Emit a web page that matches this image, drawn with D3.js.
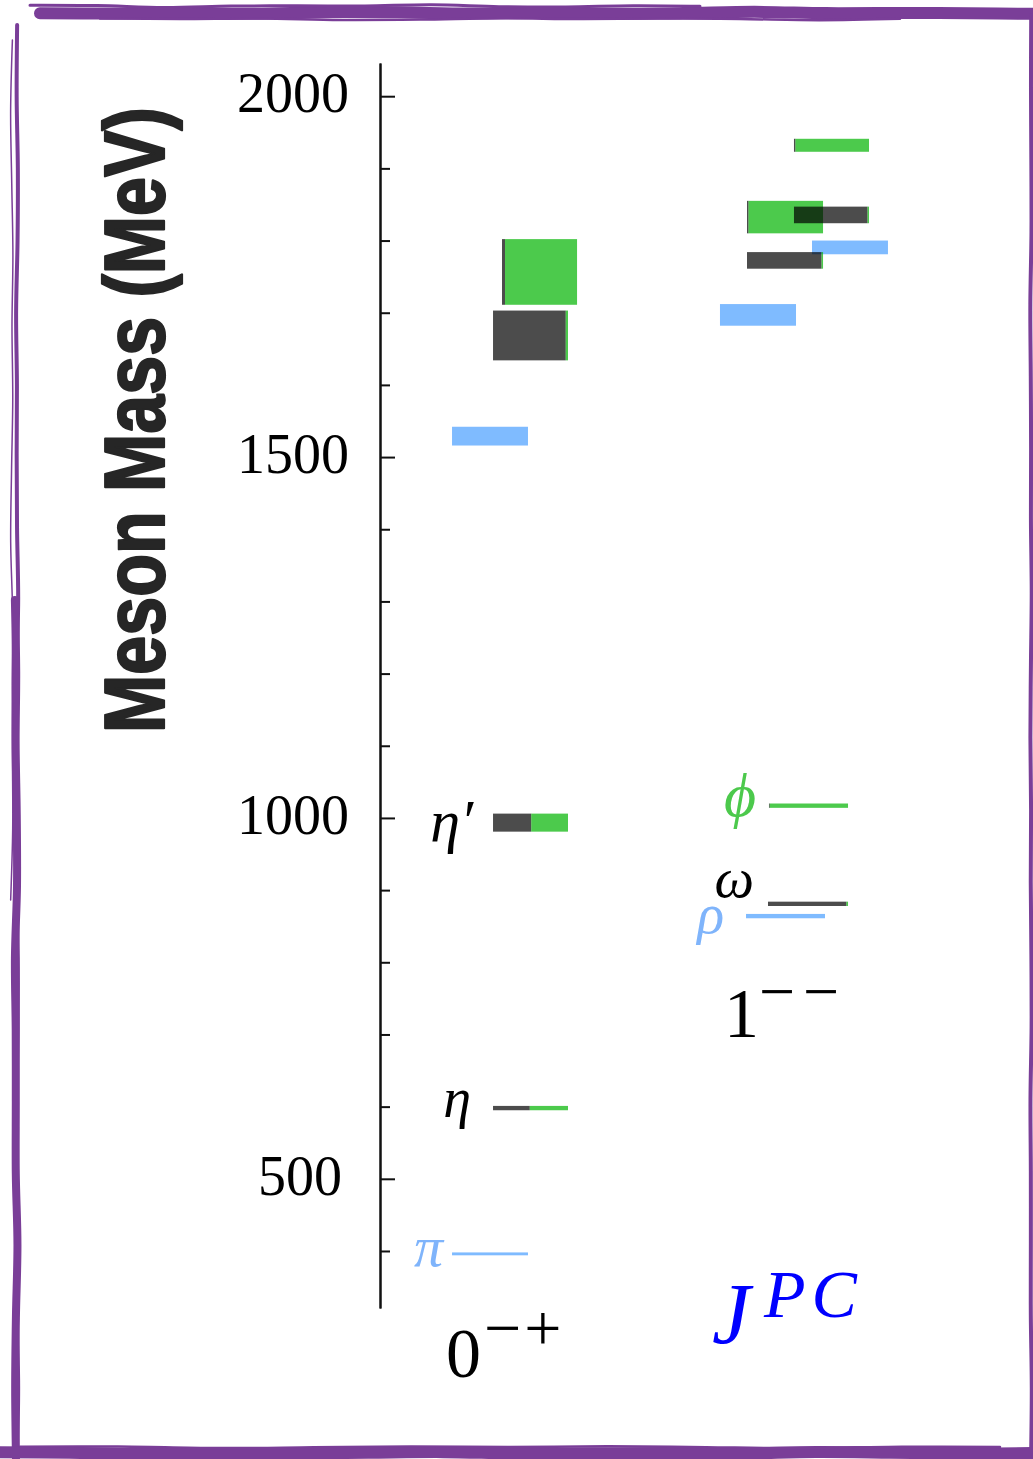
<!DOCTYPE html>
<html>
<head>
<meta charset="utf-8">
<script src="https://cdn.jsdelivr.net/npm/d3@7"></script>
<style>
  html, body { margin: 0; padding: 0; background: #fff; }
  svg { display: block; }
</style>
</head>
<body>
<svg id="chart" width="1033" height="1459"></svg>
<script>
// ---------------- DATA ----------------
const jpcColumns = ["0-+", "1--"];
const stateNames = ["π", "π*", "η", "η′", "η*1", "η*2", "ρ", "ρ*1", "ρ*2", "ω", "φ", "ω*1", "φ*1", "ω*2", "φ*2"];
const stateJPC   = ["0-+","0-+","0-+","0-+","0-+","0-+","1--","1--","1--","1--","1--","1--","1--","1--","1--"];
const isospin    = [1, 1, 0, 0, 0, 0, 1, 1, 1, 0, 0, 0, 0, 0, 0];
const massLo     = [394, 1516, 595, 981, 1634, 1711, 861, 1682, 1781, 878, 1014, 1761, 1810, 1824, 1923];
const massHi     = [398, 1542, 601, 1006, 1703, 1802, 867, 1712, 1800, 884, 1020, 1784, 1855, 1847, 1941];
// light-quark (l lbar) fraction of isoscalar states; the rest is s sbar
const lightFraction = [null, null, 0.49, 0.51, 0.97, 0.04, null, null, null, 0.98, 0.01, 0.98, 0.02, 0.98, 0.02];
// horizontal extent of each level, in bar-width units from the axis
const levelStart = [0.954, 0.954, 1.497, 1.497, 1.497, 1.616, 4.848, 4.503, 5.722, 5.139, 5.152, 4.861, 4.861, 5.483, 5.483];
const levelEnd   = [1.960, 1.960, 2.490, 2.490, 2.490, 2.610, 5.894, 5.510, 6.728, 6.199, 6.199, 5.868, 5.868, 6.477, 6.477];

const majorTicks = [500, 1000, 1500, 2000];
const minorTicks = [400, 600, 700, 800, 900, 1100, 1200, 1300, 1400, 1600, 1700, 1800, 1900];
const massDomain = [321, 2046];

// labels for the ground states
const labelState = ["π", "η", "η′", "ρ", "ω", "φ"];
const labelText  = ["π", "η", "η′", "ρ", "ω", "ϕ"];

// ---------------- STYLE ----------------
const colLight  = "rgb(0,119,255)";   // isovector
const colLL     = "rgb(0,0,0)";       // l lbar
const colSS     = "rgb(0,180,0)";     // s sbar
const opLight = 0.5, opLL = 0.7, opSS = 0.7;
const frameColor = "#7a3e98";
const serif = "'Liberation Serif', 'DejaVu Serif', serif";

const svg = d3.select("#chart");
svg.append("rect").attr("width", 1033).attr("height", 1459).attr("fill", "#fff");

// ---------------- SCALES ----------------
const y = d3.scaleLinear().domain(massDomain).range([1308, 63]);
const x = d3.scaleLinear().domain([0, 1]).range([380, 455.5]);

// ---------------- AXIS ----------------
const axisG = svg.append("g").attr("transform", "translate(380,0)");
const minorAxis = d3.axisLeft(y).tickValues(minorTicks).tickSizeInner(-10).tickSizeOuter(0).tickFormat("");
const majorAxis = d3.axisLeft(y).tickValues(majorTicks).tickSizeInner(-15).tickSizeOuter(0)
  .tickPadding(31).tickFormat(d3.format("d"));
axisG.append("g").call(minorAxis);
axisG.append("g").call(majorAxis);
axisG.selectAll("path.domain").attr("stroke", "#111").attr("stroke-width", 2);
axisG.selectAll(".tick line").attr("stroke", "#111").attr("stroke-width", 2);
axisG.selectAll(".tick text")
  .attr("font-family", serif).attr("font-size", 56).attr("fill", "#000")
  .attr("dy", "0.28em")
  .attr("dx", d => d === 500 ? -7 : 0);

// axis title (condensed heavy sans)
const titleG = svg.append("g").attr("transform", "translate(164,420) rotate(-90)");
const title = titleG.append("text")
  .attr("text-anchor", "middle")
  .attr("font-family", "'Liberation Sans', Arial, sans-serif")
  .attr("font-weight", "bold")
  .attr("font-size", 86)
  .attr("fill", "#262626")
  .attr("stroke", "#262626")
  .attr("stroke-width", 2.2)
  .attr("stroke-linejoin", "round")
  .text("Meson Mass (MeV)");
const natural = title.node().getComputedTextLength();
title.attr("transform", `scale(${626 / natural},1)`);

// ---------------- LEVELS ----------------
const states = stateNames.map((n, i) => ({
  name: n, jpc: stateJPC[i], I: isospin[i], lo: massLo[i], hi: massHi[i],
  f: lightFraction[i], x0: levelStart[i], x1: levelEnd[i]
}));

const segs = [];
states.forEach(s => {
  if (s.I === 1) {
    segs.push({ s, a: s.x0, b: s.x1, fill: colLight, op: opLight });
  } else {
    const mid = s.x0 + s.f * (s.x1 - s.x0);
    if (s.f > 0) segs.push({ s, a: s.x0, b: mid, fill: colLL, op: opLL });
    if (s.f < 1) segs.push({ s, a: mid, b: s.x1, fill: colSS, op: opSS });
  }
});

svg.append("g").selectAll("rect").data(segs).join("rect")
  .attr("x", d => x(d.a))
  .attr("width", d => Math.max(0.6, x(d.b) - x(d.a)))
  .attr("y", d => y(d.s.hi))
  .attr("height", d => y(d.s.lo) - y(d.s.hi))
  .attr("fill", d => d.fill)
  .attr("fill-opacity", d => d.op);

// ---------------- STATE LABELS ----------------
const labelStyle = {
  "π":  { dx: -9,  dy: 12, size: 58, color: "#7fb4fb" },
  "η":  { dx: -22, dy: 9,  size: 56, color: "#000" },
  "η′": { dx: -20, dy: 18, size: 60, color: "#000" },
  "ρ":  { dx: -22, dy: 17, size: 56, color: "#7fb4fb" },
  "ω":  { dx: -14, dy: -7, size: 56, color: "#000" },
  "φ":  { dx: -13, dy: 10, size: 62, color: "#4cc94c" }
};
const labels = labelState.map((n, i) => {
  const s = states.find(t => t.name === n);
  return { s, text: labelText[i], st: labelStyle[n] };
});
svg.append("g").selectAll("text").data(labels).join("text")
  .attr("x", d => x(d.s.x0) + d.st.dx)
  .attr("y", d => y((d.s.lo + d.s.hi) / 2) + d.st.dy)
  .attr("text-anchor", "end")
  .attr("font-family", serif)
  .attr("font-style", "italic")
  .attr("font-size", d => d.st.size)
  .attr("fill", d => d.st.color)
  .text(d => d.text);

// ---------------- J^PC LABELS ----------------
const jpcG = svg.append("g").attr("font-family", serif).attr("fill", "#000");
// 0-+
jpcG.append("text").attr("x", 446).attr("y", 1377).attr("font-size", 70).text("0");
jpcG.append("text").attr("x", 484).attr("y", 1350).attr("font-size", 66)
  .attr("letter-spacing", 3).text("−+");
// 1--
jpcG.append("text").attr("x", 724).attr("y", 1037).attr("font-size", 70).text("1");
jpcG.append("text").attr("x", 759).attr("y", 1013).attr("font-size", 64)
  .attr("letter-spacing", 8).text("−−");
// J^PC
const jg = svg.append("g").attr("font-family", serif).attr("font-style", "italic").attr("fill", "#0000ff");
jg.append("text").attr("x", 712).attr("y", 1343).attr("font-size", 86).text("J");
jg.append("text").attr("x", 764).attr("y", 1317).attr("font-size", 68)
  .attr("letter-spacing", 6).text("PC");

// ---------------- SKETCHY FRAME ----------------
const frame = svg.append("g").attr("fill", "none").attr("stroke", frameColor).attr("stroke-linecap", "round");
const wob = (a, b, n, amp, ph, horiz, c) => d3.range(n + 1).map(k => {
  const t = a + (b - a) * k / n;
  const w = amp * Math.sin(k * 1.7 + ph) * Math.cos(k * 0.6 + ph * 2);
  return horiz ? [t, c + w] : [c + w, t];
});
const ln = d3.line().curve(d3.curveCatmullRom);
// top
frame.append("path").attr("d", ln(wob(40, 1040, 14, 1.2, 0.3, true, 13))).attr("stroke-width", 12);
frame.append("path").attr("d", ln(wob(30, 700, 10, 1.5, 1.1, true, 6))).attr("stroke-width", 3);
frame.append("path").attr("d", ln(wob(100, 900, 10, 1.2, 2.1, true, 19))).attr("stroke-width", 2.5);
// left
frame.append("path").attr("d", ln(wob(25, 1460, 20, 1.2, 0.7, false, 17))).attr("stroke-width", 4);
frame.append("path").attr("d", ln(wob(600, 1460, 12, 1.5, 1.9, false, 16))).attr("stroke-width", 8);
frame.append("path").attr("d", ln(wob(40, 900, 12, 1.5, 2.7, false, 12))).attr("stroke-width", 1.5);
// right
frame.append("path").attr("d", ln(wob(15, 1460, 20, 0.8, 0.5, false, 1031))).attr("stroke-width", 4);
// bottom
frame.append("path").attr("d", ln(wob(-5, 1040, 14, 1.0, 1.3, true, 1453))).attr("stroke-width", 12);
frame.append("path").attr("d", ln(wob(20, 1000, 10, 1.2, 0.9, true, 1447))).attr("stroke-width", 2.5);
</script>
</body>
</html>
